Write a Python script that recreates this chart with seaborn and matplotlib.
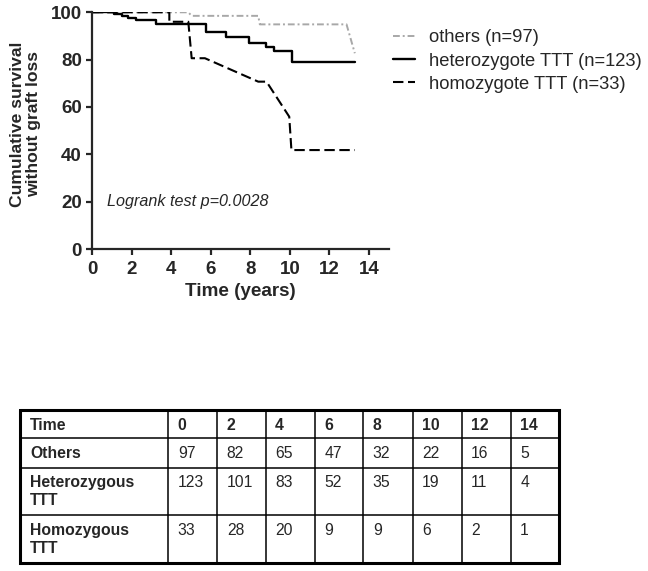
import matplotlib
matplotlib.use("Agg")
import matplotlib.pyplot as plt
import seaborn as sns
import pandas as pd

# ---- survival curve data ----
others_t = [0, 4.86, 5.03, 8.40, 8.48, 12.87, 13.29]
others_s = [100, 100, 98.5, 98.5, 94.9, 94.9, 82.7]

hetero_t = [0, 1.1, 1.5, 1.8, 2.2, 3.2, 5.76, 6.75, 7.95, 8.8, 9.2, 10.1, 13.3]
hetero_s = [100, 99.2, 98.4, 97.5, 96.7, 95.2, 91.5, 89.7, 87.2, 85.5, 83.8, 78.9, 78.9]

homo_t = [0, 3.9, 3.9, 4.86, 5.03, 5.7, 8.4, 8.82, 9.97, 10.08, 13.29]
homo_s = [100, 100, 96.0, 96.0, 80.6, 80.6, 70.7, 70.7, 55.9, 41.8, 41.8]

legend_labels = ["others (n=97)", "heterozygote TTT (n=123)", "homozygote TTT (n=33)"]
x_ticks = [0, 2, 4, 6, 8, 10, 12, 14]
y_ticks = [0, 20, 40, 60, 80, 100]

# ---- number-at-risk table ----
table_header = ["Time", "0", "2", "4", "6", "8", "10", "12", "14"]
row_labels = ["Others", "Heterozygous\nTTT", "Homozygous\nTTT"]
others_risk = [97, 82, 65, 47, 32, 22, 16, 5]
hetero_risk = [123, 101, 83, 52, 35, 19, 11, 4]
homo_risk = [33, 28, 20, 9, 9, 6, 2, 1]

sns.set_style("ticks")
plt.rcParams["font.family"] = ["Liberation Sans", "DejaVu Sans"]

W, H = 648, 571
fig = plt.figure(figsize=(W / 100, H / 100), dpi=100)

def px_axes(left, top, right, bottom):
    return fig.add_axes([left / W, 1 - bottom / H, (right - left) / W, (bottom - top) / H])

ax = px_axes(92.3, 12.3, 388.6, 249)

df = pd.concat([
    pd.DataFrame({"t": others_t, "s": others_s, "g": legend_labels[0]}),
    pd.DataFrame({"t": hetero_t, "s": hetero_s, "g": legend_labels[1]}),
    pd.DataFrame({"t": homo_t, "s": homo_s, "g": legend_labels[2]}),
])

styles = {
    legend_labels[0]: dict(color="#a8a8a8", lw=1.4, dashes=(3.5, 1.5, 1.0, 1.5), ds="default"),
    legend_labels[1]: dict(color="black", lw=1.7, dashes=None, ds="steps-post"),
    legend_labels[2]: dict(color="black", lw=1.5, dashes=(5, 2.2), ds="default"),
}
for lab in legend_labels:
    st = styles[lab]
    sub = df[df["g"] == lab]
    sns.lineplot(data=sub, x="t", y="s", ax=ax, color=st["color"], lw=st["lw"],
                 sort=False, estimator=None, drawstyle=st["ds"], label=lab)
    line = ax.lines[-1]
    if st["dashes"] is not None:
        line.set_dashes(st["dashes"])

ax.set_xlim(0, 15)
ax.set_ylim(0, 100)
ax.set_xticks(x_ticks)
ax.set_yticks(y_ticks)
for s in ["top", "right"]:
    ax.spines[s].set_visible(False)
for s in ["left", "bottom"]:
    ax.spines[s].set_linewidth(1.6)
ax.tick_params(width=1.6, length=4.5, labelsize=13.5, pad=3)
ax.tick_params(axis="x", pad=4.5)
for lbl in ax.get_xticklabels() + ax.get_yticklabels():
    lbl.set_fontweight("bold")
ax.set_xlabel("Time (years)", fontsize=13.6, fontweight="bold", labelpad=3)
ax.set_ylabel("")
fig.text(25.5 / W, 1 - 124 / H, "Cumulative survival\nwithout graft loss", rotation=90,
         ha="center", va="center", fontsize=12.6, fontweight="bold",
         multialignment="center", linespacing=1.12)
ax.text(0.74, 20, "Logrank test p=0.0028", style="italic", fontsize=11.6,
        ha="left", va="center")

leg = ax.legend(loc="upper left", bbox_to_anchor=(393 / W, 1 - 29.5 / H),
                bbox_transform=fig.transFigure, frameon=False, fontsize=13.2,
                handlelength=1.2, handletextpad=0.75, labelspacing=0.33,
                borderpad=0, borderaxespad=0)

# ---- table ----
axt = fig.add_axes([0, 0, 1, 1])
axt.set_xlim(0, W)
axt.set_ylim(H, 0)
axt.axis("off")
col_edges = [19.5, 168.3, 217.3, 265.7, 315, 363.3, 412.7, 461.7, 510.7, 559.3]
row_edges = [410, 438.3, 468.3, 515, 563.3]
for y in row_edges[1:-1]:
    axt.plot([col_edges[0], col_edges[-1]], [y, y], color="black", lw=1.1)
for x in col_edges[1:-1]:
    axt.plot([x, x], [row_edges[0], row_edges[-1]], color="black", lw=1.1)
axt.plot([col_edges[0], col_edges[-1], col_edges[-1], col_edges[0], col_edges[0]],
         [row_edges[0], row_edges[0], row_edges[-1], row_edges[-1], row_edges[0]],
         color="black", lw=2.2, solid_joinstyle="miter")

rows = [table_header,
        [row_labels[0]] + [str(v) for v in others_risk],
        [row_labels[1]] + [str(v) for v in hetero_risk],
        [row_labels[2]] + [str(v) for v in homo_risk]]
first_baseline = [429.5, 458.3, 487.3, 535.0]
line_step = 18.0
for r, row in enumerate(rows):
    for c, txt in enumerate(row):
        bold = (r == 0) or (c == 0)
        for i, part in enumerate(txt.split("\n")):
            axt.text(col_edges[c] + (10.5 if c == 0 else 9.5),
                     first_baseline[r] + i * line_step, part,
                     ha="left", va="baseline", fontsize=11.3,
                     fontweight="bold" if bold else "normal")

fig.savefig("out.png", dpi=100)
